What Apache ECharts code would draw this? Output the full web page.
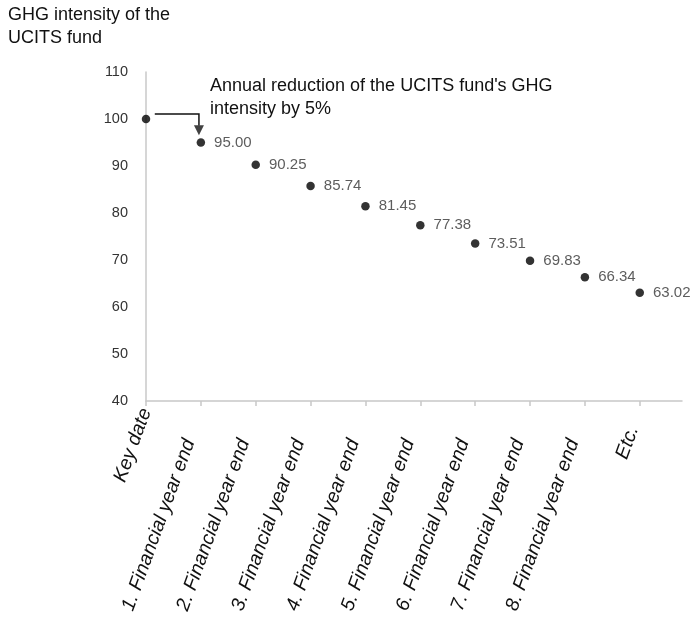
<!DOCTYPE html>
<html><head><meta charset="utf-8">
<script src="https://cdn.jsdelivr.net/npm/echarts@6/dist/echarts.min.js"></script>
<style>html,body{margin:0;padding:0;background:#fff}#c{width:696px;height:620px}</style>
</head><body><div id="c"></div>
<script>
const categories = ['Key date','1. Financial year end','2. Financial year end','3. Financial year end','4. Financial year end','5. Financial year end','6. Financial year end','7. Financial year end','8. Financial year end','Etc.'];
const values = [100, 95.00, 90.25, 85.74, 81.45, 77.38, 73.51, 69.83, 66.34, 63.02];
const labeled = [false, true, true, true, true, true, true, true, true, true];
const yTicks = {min: 40, max: 110, interval: 10};
const titleText = 'GHG intensity of the\nUCITS fund';
const noteText = "Annual reduction of the UCITS fund's GHG\nintensity by 5%";
const arrowPath = [[0.16, 101.05], [0.965, 101.05], [0.965, 98.6]];
const arrowHead = [[0.965, 97.6]];

const chart = echarts.init(document.getElementById('c'));
const font = 'Liberation Sans, Arial, sans-serif';
const lblBase = {fontSize: 19.5, fontStyle: 'italic', color: '#111', fontFamily: font};
chart.setOption({
  animation: false,
  backgroundColor: '#fff',
  textStyle: {fontFamily: font},
  grid: {left: 146, right: 14, top: 72, bottom: 219, containLabel: false},
  graphic: [
    {type: 'text', left: 8, top: 4, style: {text: titleText, font: '18px ' + font, fill: '#111', lineHeight: 23}},
    {type: 'text', left: 210, top: 75, style: {text: noteText, font: '18px ' + font, fill: '#111', lineHeight: 23}}
  ],
  xAxis: {
    type: 'value', min: 0, max: 9.77, interval: 1,
    axisLine: {show: true, lineStyle: {color: '#c8c8c8', width: 1.5}},
    axisTick: {show: true, length: 5, lineStyle: {color: '#c8c8c8', width: 1.5}},
    splitLine: {show: false},
    axisLabel: {
      rotate: 70, margin: 8, showMaxLabel: false, ...lblBase,
      formatter: v => {
        if (!Number.isInteger(v) || categories[v] === undefined) return '';
        const key = v === 0 ? 'k' : (v === categories.length - 1 ? 'e' : 'f');
        return '{' + key + '|' + categories[v] + '}';
      },
      rich: {
        k: {...lblBase, padding: [0, 0, 0, 0]},
        f: {...lblBase, padding: [0, 33, 0, 0]},
        e: {...lblBase, padding: [0, 19, 0, 0]}
      }
    }
  },
  yAxis: {
    type: 'value', min: yTicks.min, max: yTicks.max, interval: yTicks.interval,
    axisLine: {show: true, lineStyle: {color: '#c8c8c8', width: 1.5}},
    axisTick: {show: false},
    splitLine: {show: false},
    axisLabel: {fontSize: 14.5, color: '#333', margin: 18}
  },
  series: [
    {
      type: 'scatter',
      data: values.map((v, i) => [i, v]),
      symbolSize: 8.5,
      itemStyle: {color: '#000'},
      label: {
        show: true, position: 'right', distance: 9, fontSize: 15, color: '#333',
        formatter: p => labeled[p.dataIndex] ? p.value[1].toFixed(2) : ''
      },
      z: 3
    },
    {
      type: 'lines',
      coordinateSystem: 'cartesian2d',
      polyline: true,
      symbol: 'none',
      lineStyle: {color: '#111', width: 1.5, opacity: 1},
      data: [{coords: arrowPath}],
      z: 2
    },
    {
      type: 'scatter',
      data: arrowHead,
      symbol: 'triangle',
      symbolRotate: 180,
      symbolSize: [10, 10],
      itemStyle: {color: '#111'},
      silent: true,
      z: 2
    }
  ]
});
</script>
</body></html>
